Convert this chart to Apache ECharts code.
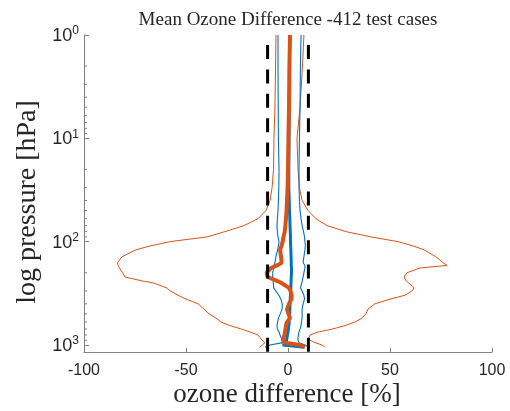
<!DOCTYPE html>
<html>
<head>
<meta charset="utf-8">
<script src="https://cdn.jsdelivr.net/npm/echarts@6/dist/echarts.min.js"></script>
<style>html,body{margin:0;padding:0;background:#fff;}#c{width:510px;height:411px;}</style>
</head>
<body>
<div id="c"></div>
<script>
// Pressure levels [hPa]
const pressure = [1, 2, 5, 10, 20, 30, 40, 50, 60, 70, 80, 90, 100, 110, 120, 140, 160, 170, 180, 200, 220, 240, 250, 280, 300, 330, 360, 400, 450, 500, 550, 600, 650, 700, 750, 800, 850, 900, 950, 1000, 1050];
// Orange: mean and spread
const meanOrange = [1, 0.7, 0.5, 0.2, 0, -0.2, -0.5, -0.7, -1, -1.3, -1.6, -2.2, -2.6, -3.2, -3.9, -3.4, -3.1, -5.4, -8.3, -10.5, -10, -5.4, -3.4, 0.5, 1.2, 1.8, 1.7, 0.5, -0.5, 0.2, 1, -0.5, -1, -1.2, -1.5, -1.7, -2.2, -2.5, -1.5, 5.9, 8.3];
const spreadOrangeLow = [-5.9, -6.1, -6.4, -6.9, -7.1, -7.8, -8.8, -10.8, -14.7, -21.6, -30.9, -39.7, -57.8, -67.6, -74.5, -81.4, -83.6, -83.3, -82.6, -81.1, -79.9, -71.6, -66.2, -59.6, -57.8, -53.9, -50, -44.1, -41.2, -38.7, -35.3, -32.8, -28.4, -23, -18.6, -14.7, -13.7, -12.7, -11.3, -12.5, -14];
const spreadOrangeHigh = [7.8, 7.1, 5.9, 4.4, 4.9, 5.6, 6.9, 9.8, 13.7, 19.1, 28.4, 40.7, 53.9, 61.3, 66.7, 72.5, 76, 78, 64.7, 58.3, 56.9, 58, 58.8, 61.8, 60.8, 57.4, 50, 42.6, 39.2, 38.2, 36.3, 32.8, 27.9, 22, 14.7, 10.8, 10.3, 10.8, 13.2, 16.7, 18.1];
// Blue: mean and spread
const meanBlue = [0.8, 0.7, 0.6, 0.5, 0.4, 0.4, 0.6, 0.7, 0.9, 1, 1.1, 1.2, 1.2, 1.3, 1.4, 1.5, 1.6, 1.6, 1.7, 1.7, 1.6, 1.5, 1.5, 1.4, 1.3, 1.2, 1.1, 1, 0.9, 0.8, 0.7, 0.6, 0.4, 0.2, 0, -0.3, -0.5, -0.7, -1, -2.5, 8];
const spreadBlueLow = [-4.9, -4.9, -4.8, -4.7, -4.4, -4.5, -4.7, -4.9, -5.2, -5.4, -5.2, -4.9, -4.4, -4.7, -5.1, -5.9, -6.4, -6.8, -7.1, -7.5, -7.5, -7.3, -7.3, -7, -6, -4.5, -3.5, -2.8, -2.9, -3.8, -4.7, -5.1, -5.4, -5.2, -4.4, -3.9, -3.4, -2.9, -2.5, -8.8, -11.3];
const spreadBlueHigh = [6.4, 6.1, 5.9, 5.6, 5.4, 5.4, 5.6, 5.9, 6.4, 6.9, 7.6, 8.1, 8.3, 8.5, 8.3, 7.8, 7.4, 8.3, 8.3, 7.8, 7.4, 7, 6.9, 6.1, 6.9, 7.8, 8.1, 7.4, 6.9, 6.9, 6.9, 6.6, 6.4, 5.9, 5.4, 5.1, 4.9, 4.9, 5.4, 8.3, 10.8];
// Limits (dashed) at +-10 %
const limitValues = [-10, 10];
const limitPressure = [1.25, 1170];
// Axis ranges and minor log ticks
const xRange = [-100, 100];
const pRange = [1, 1170];
const minorTickP = [2, 3, 4, 5, 6, 7, 8, 9, 20, 30, 40, 50, 60, 70, 80, 90, 200, 300, 400, 500, 600, 700, 800, 900];

const ORANGE = '#D95319', BLUE = '#0072BD', AX = '#808080', TXT = '#262626';
const pairs = arr => pressure.map((p, i) => [arr[i], p]);

function lineSeries(arr, color, width, z) {
  return { type: 'line', data: pairs(arr), symbol: 'none', silent: true, z: z,
    lineStyle: { color: color, width: width }, animation: false };
}

const series = [
  lineSeries(spreadOrangeLow, ORANGE, 1, 2),
  lineSeries(spreadOrangeHigh, ORANGE, 1, 2),
  lineSeries(spreadBlueLow, BLUE, 1.1, 3),
  lineSeries(spreadBlueHigh, BLUE, 1.1, 3),
  lineSeries(meanBlue, BLUE, 3, 4),
  lineSeries(meanOrange, ORANGE, 4, 5)
];
limitValues.forEach(v => {
  series.push({ type: 'line', data: limitPressure.map(p => [v, p]), symbol: 'none', silent: true, z: 6,
    lineStyle: { color: '#000', width: 3, type: [14, 10.4] }, animation: false });
});
series.push({
  type: 'custom', silent: true, z: 7, animation: false,
  data: minorTickP.map(p => [xRange[0], p]),
  encode: { x: 0, y: 1 },
  renderItem: function (params, api) {
    const pt = api.coord([api.value(0), api.value(1)]);
    return { type: 'line', shape: { x1: pt[0], y1: pt[1], x2: pt[0] + 3, y2: pt[1] },
      style: { stroke: AX, lineWidth: 1 } };
  }
});

const chart = echarts.init(document.getElementById('c'), null, { renderer: 'canvas' });
chart.setOption({
  animation: false,
  backgroundColor: '#fff',
  grid: { left: 84, right: 18, top: 35, bottom: 59 },
  xAxis: {
    type: 'value', min: xRange[0], max: xRange[1], interval: 50,
    axisLine: { show: true, onZero: false, lineStyle: { color: AX, width: 1 } },
    axisTick: { show: true, inside: true, length: 4, lineStyle: { color: AX } },
    splitLine: { show: false },
    axisLabel: { fontSize: 16, fontFamily: 'Liberation Sans', color: TXT, margin: 11 }
  },
  yAxis: {
    type: 'log', logBase: 10, min: pRange[0], max: pRange[1], inverse: true,
    axisLine: { show: true, onZero: false, lineStyle: { color: AX, width: 1 } },
    axisTick: { show: true, inside: true, length: 5, lineStyle: { color: AX } },
    splitLine: { show: false },
    axisLabel: {
      margin: 5, showMaxLabel: false,
      formatter: function (v) {
        const e = Math.round(Math.log10(v));
        if (Math.abs(v / Math.pow(10, e) - 1) > 1e-6) return '';
        return '{b|10}{s|' + e + '}';
      },
      rich: {
        b: { fontSize: 18, fontFamily: 'Liberation Sans', color: TXT, lineHeight: 20, verticalAlign: 'bottom' },
        s: { fontSize: 12, fontFamily: 'Liberation Sans', color: TXT, lineHeight: 12, verticalAlign: 'top' }
      }
    }
  },
  graphic: [
    { type: 'text', x: 288, y: 20, silent: true,
      style: { text: 'Mean Ozone Difference -412 test cases', font: '19px "Liberation Serif"', fill: TXT,
        textAlign: 'center', textVerticalAlign: 'middle' } },
    { type: 'text', x: 287, y: 395, silent: true,
      style: { text: 'ozone difference [%]', font: '27px "Liberation Serif"', fill: TXT,
        textAlign: 'center', textVerticalAlign: 'middle' } },
    { type: 'text', x: 28, y: 202, rotation: Math.PI / 2, silent: true,
      style: { text: 'log pressure [hPa]', font: '28px "Liberation Serif"', fill: TXT,
        textAlign: 'center', textVerticalAlign: 'middle' } }
  ],
  series: series
});
</script>
</body>
</html>
